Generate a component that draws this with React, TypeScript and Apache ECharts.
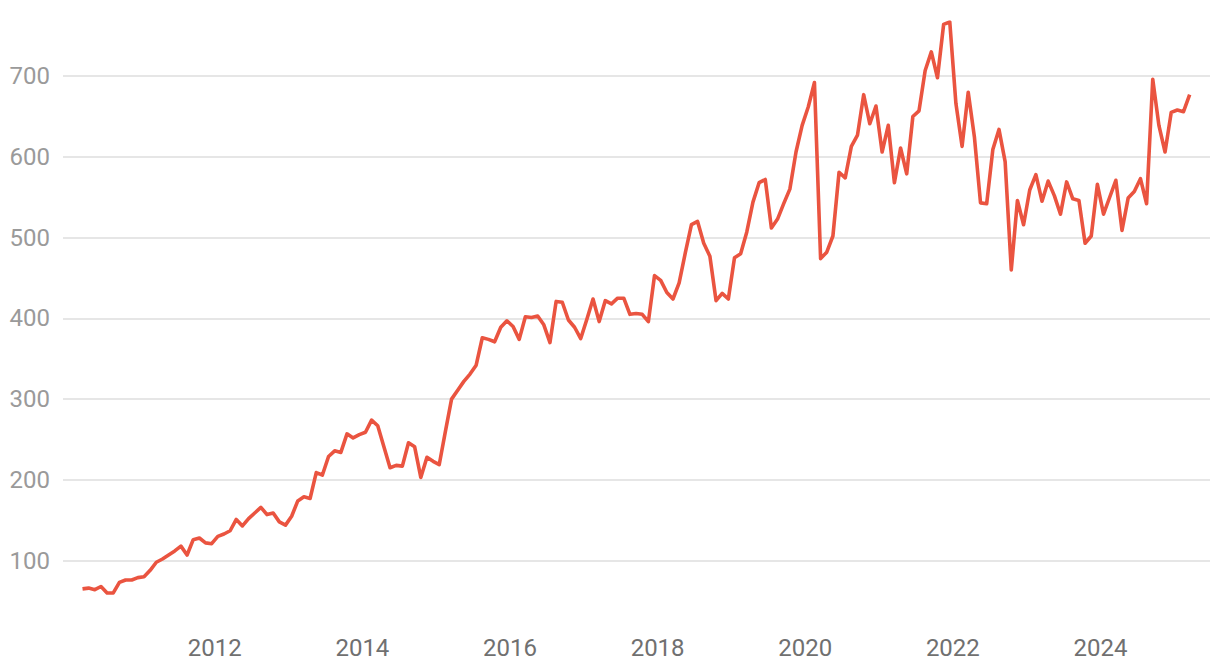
import React, { useEffect, useRef } from "react";
import * as echarts from "echarts";

// Monthly series, first point March 2010, last point March 2025
const START_YEAR = 2010;
const START_MONTH = 2; // 0-based: March

const values2010_2011 = [65, 66, 64, 68, 60, 60, 73, 76, 76, 79, 80, 88, 98, 102, 107, 112, 118, 107, 126, 128];
const values2012_2013 = [122, 121, 130, 133, 137, 151, 143, 152, 159, 166, 157, 159, 148, 144, 155, 174, 179, 177, 209, 206];
const values2014_2015 = [229, 236, 234, 257, 252, 256, 259, 274, 267, 241, 215, 218, 217, 246, 241, 203, 228, 223, 219, 260];
const values2016_2017 = [300, 311, 322, 331, 342, 376, 374, 371, 389, 397, 390, 374, 402, 401, 403, 392, 370, 421, 420, 398];
const values2018_2019 = [389, 375, 399, 424, 396, 422, 418, 425, 425, 405, 406, 405, 396, 453, 447, 432, 424, 444, 481, 516];
const values2020_2021 = [520, 493, 477, 422, 431, 424, 475, 480, 507, 544, 568, 572, 512, 523, 542, 560, 606, 639, 662, 692];
const values2022_2023 = [474, 482, 502, 581, 574, 613, 627, 677, 641, 663, 606, 639, 568, 611, 579, 650, 657, 707, 730, 698];
const values2024_2025 = [764, 767, 666, 613, 680, 625, 543, 542, 609, 634, 594, 460, 546, 516, 559, 578, 545, 570, 552, 529];
const values2026_2027 = [569, 548, 546, 493, 502, 566, 529, 550, 571, 509, 549, 557, 573, 542, 696, 639, 606, 655, 658, 656, 677];

const values = [
  ...values2010_2011,
  ...values2012_2013,
  ...values2014_2015,
  ...values2016_2017,
  ...values2018_2019,
  ...values2020_2021,
  ...values2022_2023,
  ...values2024_2025,
  ...values2026_2027,
];

// month index -> fractional year (mid-month)
const months = values.map((_, i) => START_YEAR + (START_MONTH + i + 0.5) / 12);

const xTickYears = [2012, 2014, 2016, 2018, 2020, 2022, 2024];
const yTicks = { min: 0, interval: 100 };

export default function App() {
  const ref = useRef<HTMLDivElement>(null);

  useEffect(() => {
    document.body.style.margin = "0";
    if (!ref.current) return;
    const chart = echarts.init(ref.current, undefined, { renderer: "svg" });
    chart.setOption({
      animation: false,
      backgroundColor: "#ffffff",
      grid: { left: 63, right: 10, top: 22, bottom: 30.6, containLabel: false },
      xAxis: {
        type: "value",
        min: 2009.944,
        max: 2025.484,
        axisLine: { show: false },
        axisTick: { show: false },
        splitLine: { show: false },
        axisLabel: {
          customValues: xTickYears,
          formatter: (v: number) => String(Math.round(v)),
          color: "#707070",
          fontFamily: "Roboto",
          fontSize: 24,
          margin: -5,
        },
      },
      yAxis: {
        type: "value",
        min: yTicks.min,
        max: "dataMax",
        interval: yTicks.interval,
        axisLine: { show: false },
        axisTick: { show: false },
        splitLine: {
          show: true,
          showMinLine: false,
          showMaxLine: false,
          lineStyle: { color: "#e6e6e6", width: 2 },
        },
        axisLabel: {
          showMinLabel: false,
          showMaxLabel: false,
          color: "#9a9a9a",
          fontFamily: "Roboto",
          fontSize: 24,
          margin: 13,
        },
      },
      series: [
        {
          type: "line",
          data: months.map((m, i) => [m, values[i]]),
          showSymbol: false,
          symbol: "none",
          lineStyle: { color: "#ea5440", width: 3.6, join: "round" },
          itemStyle: { color: "#ea5440" },
        },
      ],
    });
    return () => chart.dispose();
  }, []);

  return <div ref={ref} style={{ width: 1220, height: 672 }} />;
}
